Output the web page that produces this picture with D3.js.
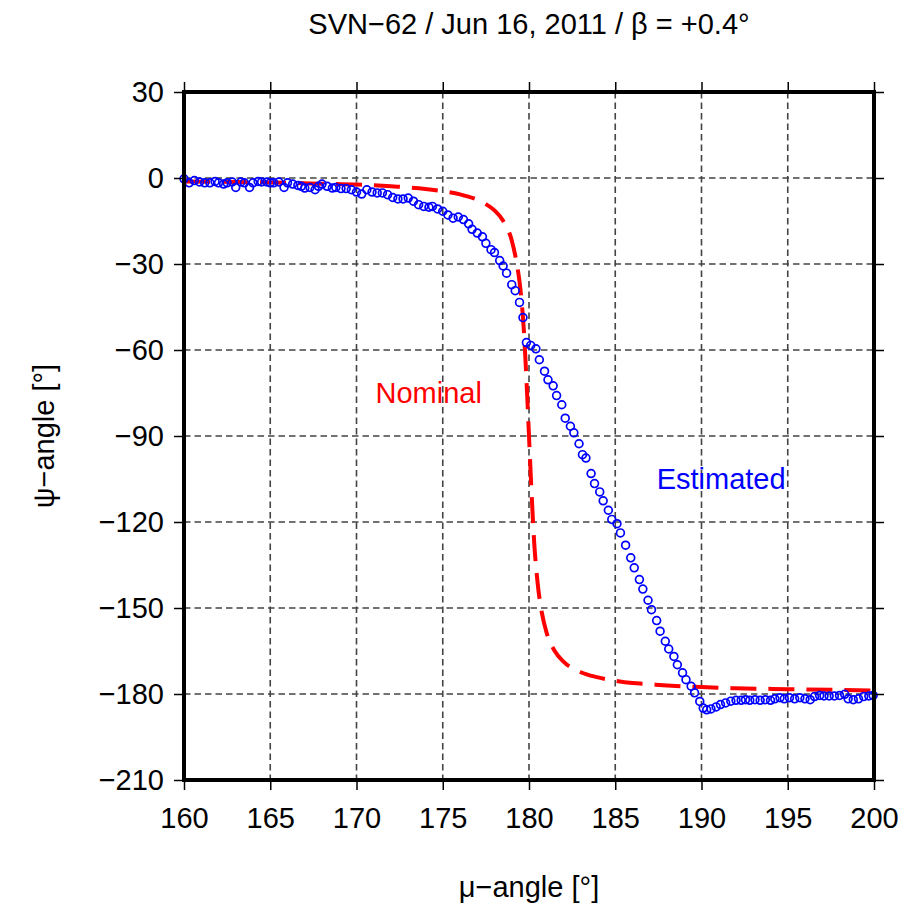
<!DOCTYPE html>
<html>
<head>
<meta charset="utf-8">
<script src="https://cdn.jsdelivr.net/npm/d3@7"></script>
<style>
  html, body { margin: 0; padding: 0; background: #fff; }
  svg { display: block; font-family: "Liberation Sans", Arial, Helvetica, sans-serif; }
</style>
</head>
<body>
<svg id="chart" width="907" height="907"></svg>
<script>
// ---- data ----
const chartTitle = "SVN\u221262 / Jun 16, 2011 / \u03b2 = +0.4\u00b0";
const xLabel = "\u03bc\u2212angle [\u00b0]";
const yLabel = "\u03c8\u2212angle [\u00b0]";
const xTicks = [160, 165, 170, 175, 180, 185, 190, 195, 200];
const yTicks = [30, 0, -30, -60, -90, -120, -150, -180, -210];

// Nominal yaw (red dashed)
const muNominal  = [160, 163, 166, 168, 170, 172, 174, 175, 176, 177, 177.5, 178, 178.5, 179, 179.25, 179.5, 179.7, 179.85, 180, 180.15, 180.3, 180.5, 180.75, 181, 181.5, 182, 183, 184, 185, 186, 187, 188, 190, 192, 195, 200];
const psiNominal = [-1.2, -1.4, -1.7, -2.0, -2.3, -2.9, -3.8, -4.6, -5.7, -7.6, -9.1, -11.3, -14.9, -21.8, -28.5, -38.7, -53, -70, -90, -110, -127, -141.3, -151.8, -158.2, -165.1, -168.7, -172.4, -174.2, -175.4, -176.2, -176.6, -177.0, -177.6, -178.0, -178.3, -178.8];

// Estimated yaw (blue circles)
const muEstimated = [160.0, 160.3, 160.6, 160.9, 161.2, 161.5, 161.8, 162.0, 162.3, 162.5, 162.8, 163.0, 163.3, 163.5, 163.8, 164.0, 164.3, 164.5, 164.8, 165.0, 165.2, 165.5, 165.8, 166.0, 166.3, 166.6, 166.8, 167.0, 167.3, 167.6, 167.8, 168.0, 168.3, 168.6, 168.8, 169.1, 169.4, 169.7,
  170.0, 170.3, 170.6, 170.9, 171.2, 171.5, 171.8, 172.1, 172.4, 172.7, 173.0, 173.3, 173.6, 173.9, 174.2, 174.4, 174.7, 175.0, 175.3, 175.6, 175.9, 176.2, 176.5, 176.7, 177.0, 177.3, 177.5, 177.8, 178.0, 178.3, 178.5, 178.7, 179.0, 179.2, 179.45, 179.65,
  179.85, 180.1, 180.4, 180.6, 180.9, 181.1, 181.4, 181.6, 181.9, 182.1, 182.4, 182.6, 182.9, 183.1, 183.3, 183.6, 183.8, 184.1, 184.3, 184.6, 184.8, 185.1, 185.3, 185.6, 185.9, 186.1, 186.4, 186.6, 186.9, 187.1, 187.4, 187.6, 187.9, 188.1, 188.4, 188.6, 188.9, 189.1, 189.4, 189.6, 189.9,
  190.1, 190.3, 190.55, 190.85, 191.1, 191.4, 191.7, 192.0, 192.3, 192.55, 192.8, 193.1, 193.4, 193.7, 194.0, 194.25, 194.55, 194.8, 195.1, 195.4, 195.7, 196.0, 196.3, 196.55, 196.85, 197.1, 197.4, 197.7, 198.0, 198.3, 198.5, 198.8, 199.1, 199.4, 199.7, 199.95];
const psiEstimated = [-0.3, -1.7, -0.9, -1.4, -1.7, -1.7, -1.2, -1.7, -2.1, -1.7, -1.4, -3.3, -1.4, -1.7, -3.3, -1.7, -1.2, -1.4, -1.4, -1.7, -1.7, -1.4, -3.3, -1.7, -2.1, -2.6, -2.9, -3.5, -3.3, -4.1, -2.9, -2.1, -2.9, -3.5, -3.3, -3.7, -3.7, -4.1,
  -4.9, -5.6, -4.1, -4.9, -5.2, -5.2, -5.8, -6.8, -7.3, -7.3, -7.0, -8.1, -9.3, -9.9, -10.2, -9.9, -10.8, -11.6, -12.9, -14.0, -13.6, -14.5, -16.0, -17.9, -19.2, -20.5, -22.8, -25.0, -26.0, -28.8, -30.7, -33.2, -37.2, -39.3, -43.4, -48.7,
  -57.4, -58.4, -59.6, -63.4, -67.4, -70.4, -72.5, -75.9, -79.1, -83.8, -86.6, -88.9, -92.7, -96.5, -97.7, -103.1, -106.6, -109.5, -112.6, -115.9, -119.1, -120.6, -123.8, -128.1, -132.5, -136.0, -140.1, -143.4, -147.3, -150.6, -154.4, -158.1, -161.6, -164.3, -166.9, -169.8, -172.6, -175.0, -177.3, -179.6, -182.6,
  -184.9, -185.5, -185.2, -184.5, -183.7, -183.1, -182.5, -182.2, -182.2, -182.0, -182.2, -182.0, -182.2, -182.0, -182.2, -181.7, -181.3, -181.7, -181.3, -181.7, -181.3, -181.7, -182.0, -180.9, -180.5, -180.7, -180.7, -180.7, -180.5, -180.1, -181.7, -182.0, -181.7, -180.9, -180.7, -180.5];

const nominalLabel = "Nominal";
const estimatedLabel = "Estimated";

// ---- drawing ----
const svg = d3.select("#chart");
const plot = { left: 184, top: 92, right: 874, bottom: 780 };
const x = d3.scaleLinear().domain([160, 200]).range([plot.left, plot.right]);
const y = d3.scaleLinear().domain([-210, 30]).range([plot.bottom, plot.top]);
const FS = 29;

// grid
const grid = svg.append("g").attr("stroke", "#444").attr("stroke-width", 1.6).attr("stroke-dasharray", "6.5,4");
grid.selectAll("line.gx").data(xTicks.slice(1, -1)).join("line")
  .attr("x1", d => x(d)).attr("x2", d => x(d)).attr("y1", plot.top).attr("y2", plot.bottom);
grid.selectAll("line.gy").data(yTicks.slice(1, -1)).join("line")
  .attr("x1", plot.left).attr("x2", plot.right).attr("y1", d => y(d)).attr("y2", d => y(d));

// nominal line
const nominal = muNominal.map((m, i) => [m, psiNominal[i]]);
svg.append("path").datum(nominal)
  .attr("fill", "none").attr("stroke", "#ff0000").attr("stroke-width", 4)
  .attr("stroke-dasharray", "26,12")
  .attr("d", d3.line().x(d => x(d[0])).y(d => y(d[1])).curve(d3.curveMonotoneX));

// estimated circles
const est = muEstimated.map((m, i) => [m, psiEstimated[i]]);
svg.append("g").selectAll("circle").data(est).join("circle")
  .attr("cx", d => x(d[0])).attr("cy", d => y(d[1])).attr("r", 3.9)
  .attr("fill", "none").attr("stroke", "#0000ff").attr("stroke-width", 1.7);

// axes
function styleAxis(g) {
  g.select(".domain").remove();
  g.selectAll(".tick line").attr("stroke", "#000").attr("stroke-width", 1.5);
  g.selectAll(".tick text").attr("fill", "#000").attr("font-size", FS)
    .attr("font-family", "'Liberation Sans', Arial, sans-serif");
}
svg.append("g").attr("transform", `translate(0,${plot.bottom})`)
  .call(d3.axisBottom(x).tickValues(xTicks).tickSize(10).tickPadding(17).tickFormat(d3.format("d")))
  .call(styleAxis);
svg.append("g").attr("transform", `translate(0,${plot.top})`)
  .call(d3.axisTop(x).tickValues(xTicks).tickSize(10).tickFormat(""))
  .call(styleAxis);
svg.append("g").attr("transform", `translate(${plot.left},0)`)
  .call(d3.axisLeft(y).tickValues(yTicks).tickSize(10).tickPadding(10).tickFormat(d3.format("d")))
  .call(styleAxis);
svg.append("g").attr("transform", `translate(${plot.right},0)`)
  .call(d3.axisRight(y).tickValues(yTicks).tickSize(10).tickFormat(""))
  .call(styleAxis);

// frame
svg.append("rect").attr("x", plot.left).attr("y", plot.top)
  .attr("width", plot.right - plot.left).attr("height", plot.bottom - plot.top)
  .attr("fill", "none").attr("stroke", "#000").attr("stroke-width", 4);

// texts
svg.append("text").attr("x", (plot.left + plot.right) / 2).attr("y", 34)
  .attr("text-anchor", "middle").attr("font-size", FS).text(chartTitle);
svg.append("text").attr("x", (plot.left + plot.right) / 2).attr("y", 897)
  .attr("text-anchor", "middle").attr("font-size", FS).text(xLabel);
svg.append("text").attr("transform", `translate(54,${(plot.top + plot.bottom) / 2}) rotate(-90)`)
  .attr("text-anchor", "middle").attr("font-size", FS).text(yLabel);
svg.append("text").attr("x", x(171.1)).attr("y", y(-78.5)).attr("fill", "#ff0000")
  .attr("font-size", FS).text(nominalLabel);
svg.append("text").attr("x", x(187.4)).attr("y", y(-108.5)).attr("fill", "#0000ff")
  .attr("font-size", FS).text(estimatedLabel);
</script>
</body>
</html>
